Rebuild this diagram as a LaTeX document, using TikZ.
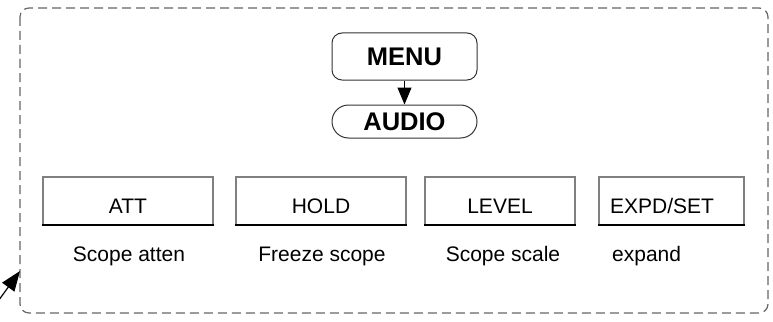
\documentclass[tikz,border=0pt]{standalone}
\usepackage{fontspec}
\setmainfont{Liberation Sans}
\usetikzlibrary{arrows.meta,shapes.misc}
\begin{document}
\begin{tikzpicture}[x=1pt,y=-1pt,
  frame/.style={draw=black!60,line width=1.2pt,dash pattern=on 9pt off 5pt,rounded corners=9pt},
  menubox/.style={draw=black!80,line width=1pt,rounded corners=10pt,minimum width=145pt,minimum height=47pt,font=\bfseries\fontsize{25.5}{30}\selectfont,inner sep=0pt},
  audiobox/.style={draw=black!80,line width=1pt,rounded rectangle,minimum width=145pt,minimum height=33pt,font=\bfseries\fontsize{25.5}{30}\selectfont,inner sep=0pt},
  keybox/.style={draw=black!50,line width=1.2pt},
  keybottom/.style={draw=black,line width=2.2pt},
  keytext/.style={font=\fontsize{21}{25}\selectfont,inner sep=0pt,anchor=base},
  lab/.style={font=\fontsize{21}{25}\selectfont,inner sep=0pt,anchor=base},
  arr/.style={-{Triangle[length=17pt,width=14pt]},line width=1pt},
  arrb/.style={-{Triangle[length=20pt,width=15pt]},line width=1.2pt}
]
\useasboundingbox (0,0) rectangle (773,321);
\draw[frame] (20,8) rectangle (768,313);
\node[menubox] (menu) at (404.5,56.5) {MENU};
\node[audiobox] (audio) at (404.5,121.5) {AUDIO};
\draw[arr] (menu.south) -- (audio.north);
% keys
\foreach \n/\l/\r in {att/43/213,hold/236/406,level/425/575,expd/599/744}{
  \draw[keybox] (\l,225) -- (\l,177) -- (\r,177) -- (\r,225);
  \draw[keybottom] (\l-0.6,225) -- (\r+0.6,225);
  \coordinate (\n) at ({(\l+\r)/2},201);
}
\node[keytext] (tatt) at (128,213.5) {ATT};
\node[keytext] (thold) at (321,213.5) {HOLD};
\node[keytext] (tlevel) at (500,213.5) {LEVEL};
\node[keytext] (texpd) at (662,213.5) {EXPD/SET};
\node[lab] (l1) at (129,261) {Scope atten};
\node[lab] (l2) at (322,261) {Freeze scope};
\node[lab] (l3) at (503,261) {Scope scale};
\node[lab,anchor=base west] (l4) at (612,261) {expand};
\coordinate (atail) at (-4,304);
\coordinate (ahead) at (20,271);
\draw[arrb] (atail) -- (ahead);
\end{tikzpicture}
\end{document}
